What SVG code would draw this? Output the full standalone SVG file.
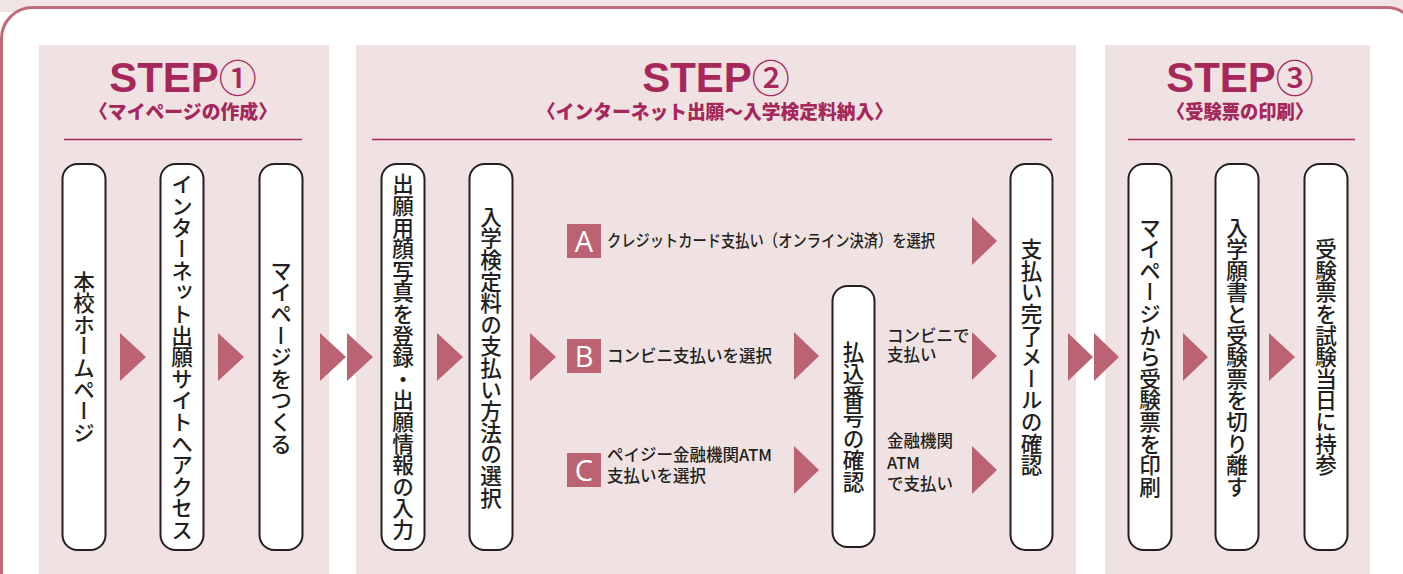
<svg xmlns="http://www.w3.org/2000/svg" width="1403" height="574" viewBox="0 0 1403 574">
<style>
.band{fill:#f0e4e5}
.frame{fill:#ffffff;stroke:#c16b7a;stroke-width:3}
.panel{fill:#f0e2e3}
.rule{stroke:#a8275a;stroke-width:1.6}
.step{font-family:"Liberation Sans",Arial,sans-serif;font-weight:700;font-size:42px;fill:#a6275a;text-anchor:middle}
.circ{font-family:"Noto Sans CJK JP",sans-serif;font-weight:500;font-size:38px}
.sub{font-family:"Noto Sans CJK JP",sans-serif;font-weight:900;font-size:19px;fill:#a6275a;text-anchor:middle}
.node{fill:#ffffff;stroke:#231f20;stroke-width:2}
.vt{font-family:"Noto Sans CJK JP",sans-serif;font-weight:500;font-size:21.6px;fill:#231f20;writing-mode:vertical-rl;text-anchor:middle}
.arr{fill:#bc6373}
.badge{fill:#bc6373}
.bl{font-family:"Open Sans","Noto Sans",sans-serif;font-size:29px;fill:#ffffff;text-anchor:middle}
.lab{font-family:"Noto Sans CJK JP",sans-serif;font-weight:500;font-size:16.5px;fill:#231f20}
</style>
<rect class="band" x="0" y="0" width="1403" height="12"/>
<rect class="frame" x="1.5" y="7.5" width="1416" height="620" rx="31"/>

<g id="panels">
<rect class="panel" x="39" y="45" width="290" height="529"/>
<rect class="panel" x="356" y="45" width="720" height="529"/>
<rect class="panel" x="1105" y="45" width="265" height="529"/>
<line class="rule" x1="64" y1="139.5" x2="302" y2="139.5"/>
<line class="rule" x1="372" y1="139.5" x2="1052" y2="139.5"/>
<line class="rule" x1="1128" y1="139.5" x2="1355" y2="139.5"/>
</g>

<g id="titles">
<text class="step" x="183" y="92">STEP<tspan class="circ">①</tspan></text>
<text class="sub" x="183" y="119" textLength="188" lengthAdjust="spacingAndGlyphs">〈マイページの作成〉</text>
<text class="step" x="716" y="92">STEP<tspan class="circ">②</tspan></text>
<text class="sub" x="715" y="119" textLength="356" lengthAdjust="spacingAndGlyphs">〈インターネット出願～入学検定料納入〉</text>
<text class="step" x="1240" y="92">STEP<tspan class="circ">③</tspan></text>
<text class="sub" x="1240" y="119" textLength="146" lengthAdjust="spacingAndGlyphs">〈受験票の印刷〉</text>
</g>

<g id="connectors">
<polygon class="arr" points="120,333 146,357 120,381"/>
<polygon class="arr" points="218,333 244,357 218,381"/>
<polygon class="arr" points="320,333 346,357 320,381"/>
<polygon class="arr" points="347,333 373,357 347,381"/>
<polygon class="arr" points="437,333 463,357 437,381"/>
<polygon class="arr" points="530,333 556,357 530,381"/>
<polygon class="arr" points="972,217 997,241 972,265"/>
<polygon class="arr" points="794,332 819,356 794,380"/>
<polygon class="arr" points="972,332 997,356 972,380"/>
<polygon class="arr" points="794,446 819,470 794,494"/>
<polygon class="arr" points="972,446 997,470 972,494"/>
<polygon class="arr" points="1068,333 1093,357 1068,381"/>
<polygon class="arr" points="1094,333 1119,357 1094,381"/>
<polygon class="arr" points="1183,333 1208,357 1183,381"/>
<polygon class="arr" points="1269,333 1295,357 1269,381"/>
</g>

<g id="n1"><rect class="node" x="62.5" y="164" width="43" height="386" rx="15"/><text class="vt" x="84" y="357">本校ホームページ</text></g>
<g id="n2"><rect class="node" x="160.5" y="164" width="43" height="386" rx="15"/><text class="vt" x="182" y="357">インターネット出願サイトへアクセス</text></g>
<g id="n3"><rect class="node" x="259.5" y="164" width="43" height="386" rx="15"/><text class="vt" x="281" y="357">マイページをつくる</text></g>
<g id="n4"><rect class="node" x="381.5" y="164" width="43" height="386" rx="15"/><text class="vt" x="403" y="357">出願用顔写真を登録・出願情報の入力</text></g>
<g id="n5"><rect class="node" x="469.5" y="164" width="43" height="386" rx="15"/><text class="vt" x="491" y="357">入学検定料の支払い方法の選択</text></g>
<g id="n6"><rect class="node" x="832.5" y="286" width="42" height="261" rx="15"/><text class="vt" x="853.5" y="417">払込番号の確認</text></g>
<g id="n7"><rect class="node" x="1010.5" y="164" width="42" height="386" rx="15"/><text class="vt" x="1031.5" y="357">支払い完了メールの確認</text></g>
<g id="n8"><rect class="node" x="1128.5" y="164" width="43" height="386" rx="15"/><text class="vt" x="1150" y="357">マイページから受験票を印刷</text></g>
<g id="n9"><rect class="node" x="1215.5" y="164" width="43" height="386" rx="15"/><text class="vt" x="1237" y="357">入学願書と受験票を切り離す</text></g>
<g id="n10"><rect class="node" x="1304.5" y="164" width="43" height="386" rx="15"/><text class="vt" x="1326" y="357">受験票を試験当日に持参</text></g>

<g id="optA"><rect class="badge" x="567" y="224" width="34" height="34"/><text class="bl" x="584" y="252">A</text><text class="lab" x="607" y="247" textLength="328" lengthAdjust="spacingAndGlyphs">クレジットカード支払い（オンライン決済）を選択</text></g>
<g id="optB"><rect class="badge" x="567" y="339" width="34" height="34"/><text class="bl" x="584" y="367">B</text><text class="lab" x="607" y="362">コンビニ支払いを選択</text></g>
<g id="optC"><rect class="badge" x="567" y="453" width="34" height="34"/><text class="bl" x="584" y="481">C</text><text class="lab" x="607" y="461">ペイジー金融機関ATM<tspan x="607" y="482">支払いを選択</tspan></text></g>
<g id="payB"><text class="lab" x="887" y="342">コンビニで<tspan x="887" y="361">支払い</tspan></text></g>
<g id="payC"><text class="lab" x="887" y="447">金融機関<tspan x="887" y="469">ATM</tspan><tspan x="887" y="490">で支払い</tspan></text></g>
</svg>
